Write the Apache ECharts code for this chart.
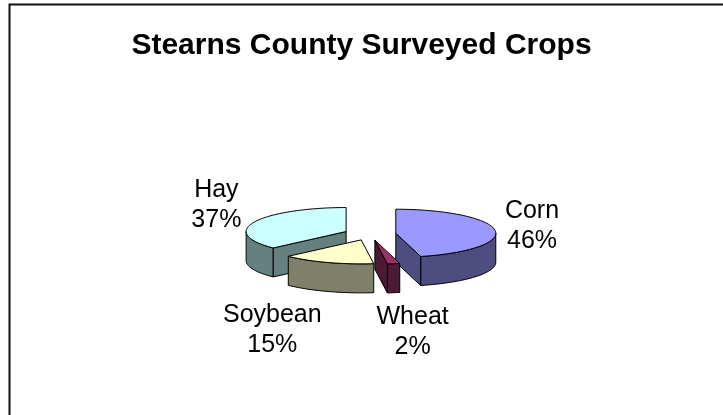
<!DOCTYPE html>
<html>
<head>
<meta charset="utf-8">
<title>Stearns County Surveyed Crops</title>
<script src="https://cdn.jsdelivr.net/npm/echarts@6/dist/echarts.min.js"></script>
<style>
  html, body { margin: 0; padding: 0; background: #fff; }
  #chart { width: 723px; height: 415px; }
</style>
</head>
<body>
<div id="chart"></div>
<script>
// Survey shares (percent), in the order the slices run clockwise from 12 o'clock
const categories = ['Corn', 'Wheat', 'Soybean', 'Hay'];
const shares = [46, 2, 15, 37];
const topColors = ['#9999FF', '#993366', '#FFFFCC', '#CCFFFF'];
const sideColors = ['#4D4D80', '#4D1A33', '#80806A', '#668080'];

// Layout of the tilted, exploded pie
const PIE = { cx: 370, cy: 234, rx: 100, ry: 24, depth: 29, explode: 26 };
// Where each label sits relative to the rim at the slice's middle angle
const labelShift = [[37, -4], [19, 39], [-55, 39], [-38, -17]];
// Painting order (back to front)
const paintRank = [1, 3, 2, 0];

const total = shares.reduce((a, b) => a + b, 0);
const starts = [];
shares.reduce((acc, v, i) => { starts[i] = acc; return acc + v; }, 0);

function rimPoint(c, theta, h) {
  return [c[0] + PIE.rx * Math.sin(theta), c[1] - PIE.ry * Math.cos(theta) + h];
}
function arc(c, a0, a1, h) {
  const pts = [];
  const n = Math.max(2, Math.ceil(Math.abs(a1 - a0) / (Math.PI / 90)));
  for (let k = 0; k <= n; k++) pts.push(rimPoint(c, a0 + (a1 - a0) * k / n, h));
  return pts;
}

function renderSlice(params, api) {
  const i = params.dataIndex;
  const value = api.value(0);
  const a0 = starts[i] / total * Math.PI * 2;
  const a1 = a0 + value / total * Math.PI * 2;
  const mid = (a0 + a1) / 2;
  const e = PIE.explode;
  const c = [PIE.cx + e * Math.sin(mid), PIE.cy - e * (PIE.ry / PIE.rx) * Math.cos(mid)];
  const d = PIE.depth;
  const z0 = paintRank[i] * 10;
  const edge = { stroke: '#000', lineWidth: 1, lineJoin: 'round' };
  const children = [];

  // outer wall: only the front half of the rim faces the viewer
  const w0 = Math.max(a0, Math.PI / 2), w1 = Math.min(a1, Math.PI * 1.5);
  if (w1 > w0) {
    const top = arc(c, w0, w1, 0);
    const bot = arc(c, w1, w0, d);
    children.push({ type: 'polygon', z2: z0 + 1, shape: { points: top.concat(bot) },
      style: Object.assign({ fill: sideColors[i] }, edge) });
  }
  // cut faces that turn toward the viewer
  const faces = [];
  if (Math.sin(a0) < -1e-6) faces.push(a0);
  if (Math.sin(a1) > 1e-6) faces.push(a1);
  faces.forEach(a => {
    const r = rimPoint(c, a, 0);
    children.push({ type: 'polygon', z2: z0 + 2,
      shape: { points: [[c[0], c[1]], r, [r[0], r[1] + d], [c[0], c[1] + d]] },
      style: Object.assign({ fill: sideColors[i] }, edge) });
  });
  // top face
  children.push({ type: 'polygon', z2: z0 + 3,
    shape: { points: [[c[0], c[1]]].concat(arc(c, a0, a1, 0)) },
    style: Object.assign({ fill: topColors[i] }, edge) });

  // label: category name and rounded share
  const front = Math.cos(mid) < 0 ? d : 0;
  const anchor = rimPoint(c, mid, front);
  children.push({ type: 'text', z2: z0 + 5,
    style: {
      text: categories[i] + '\n' + Math.round(value / total * 100) + '%',
      x: anchor[0] + labelShift[i][0], y: anchor[1] + labelShift[i][1],
      align: 'center', verticalAlign: 'middle',
      font: '25px "Liberation Sans", Arial, sans-serif',
      lineHeight: 30, fill: '#000'
    } });
  return { type: 'group', children };
}

const chart = echarts.init(document.getElementById('chart'), null, { renderer: 'canvas' });
chart.setOption({
  animation: false,
  backgroundColor: '#fff',
  title: {
    text: 'Stearns County Surveyed Crops',
    left: 'center', top: 26,
    textStyle: { fontFamily: '"Liberation Sans", Arial, sans-serif', fontSize: 30, fontWeight: 'bold', color: '#000' }
  },
  graphic: [{
    type: 'rect', silent: true, z: -1,
    shape: { x: 9.5, y: 4.5, width: 760, height: 460 },
    style: { fill: 'none', stroke: '#111', lineWidth: 2 }
  }],
  series: [{
    type: 'custom',
    coordinateSystem: 'none',
    renderItem: renderSlice,
    data: shares.map((v, i) => ({ name: categories[i], value: [v] }))
  }]
});
</script>
</body>
</html>
